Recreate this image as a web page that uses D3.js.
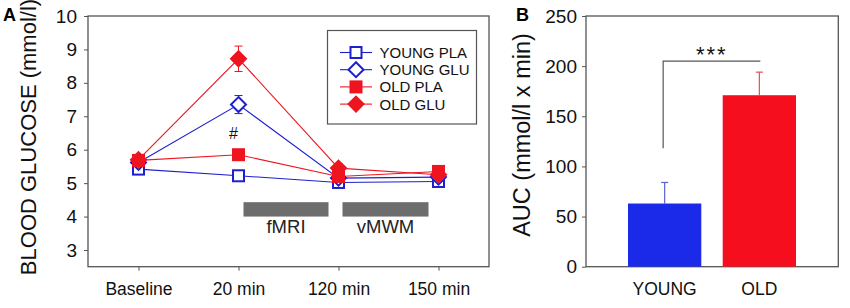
<!DOCTYPE html>
<html><head><meta charset="utf-8">
<script src="https://cdn.jsdelivr.net/npm/d3@7"></script>
<style>body{margin:0;background:#fff}svg{display:block}text{font-family:"Liberation Sans",Arial,sans-serif}</style>
</head><body><svg id="c" width="850" height="308"></svg>
<script>
const timepoints = ["Baseline","20 min","120 min","150 min"];
const seriesNames = ["YOUNG PLA","YOUNG GLU","OLD PLA","OLD GLU"];
const youngPla = [5.42, 5.22, 5.02, 5.05];
const youngPlaErr = [0.08, 0.08, 0.08, 0.08];
const youngGlu = [5.62, 7.35, 5.15, 5.18];
const youngGluErr = [0.1, 0.27, 0.1, 0.1];
const oldPla = [5.68, 5.85, 5.2, 5.35];
const oldPlaErr = [0.08, 0.08, 0.1, 0.12];
const oldGlu = [5.7, 8.72, 5.45, 5.25];
const oldGluErr = [0.1, 0.38, 0.12, 0.12];
const glucoseTicks = [3,4,5,6,7,8,9,10];
const groups = ["YOUNG","OLD"];
const auc = [63, 171];
const aucErr = [21, 23];
const aucTicks = [0,50,100,150,200,250];

const blue = "#1f1fd0", red = "#ee1520";
const svg = d3.select("#c");

// ---------- Panel A ----------
const ax0 = 88, ax1 = 489, ayTop = 16, ayBot = 266.7;
const xA = d3.scalePoint().domain(timepoints).range([138.5, 438.5]);
const yA = d3.scaleLinear().domain([2.5, 10]).range([ayBot, ayTop]);
const gA = svg.append("g");
gA.append("rect").attr("x", ax0).attr("y", ayTop).attr("width", ax1-ax0).attr("height", ayBot-ayTop)
  .attr("fill","none").attr("stroke","#555").attr("stroke-width",1.3);
const yAxisA = gA.append("g").attr("transform",`translate(${ax0},0)`)
  .call(d3.axisLeft(yA).tickValues(glucoseTicks).tickSize(4).tickPadding(7));
yAxisA.select(".domain").remove();
yAxisA.selectAll("line").attr("stroke","#555");
yAxisA.selectAll("text").attr("font-size",19).attr("fill","#111");
const xAxisA = gA.append("g").attr("transform",`translate(0,${ayBot})`)
  .call(d3.axisBottom(xA).tickSize(4).tickPadding(12));
xAxisA.select(".domain").remove();
xAxisA.selectAll("line").attr("stroke","#555");
xAxisA.selectAll("text").attr("font-size",17.5).attr("fill","#111");

gA.append("text").attr("transform","translate(36,137) rotate(-90)").attr("text-anchor","middle")
  .attr("font-size",22).attr("fill","#111").text("BLOOD GLUCOSE (mmol/l)");
gA.append("text").attr("x",3).attr("y",21).attr("font-size",18).attr("font-weight","bold").text("A");

// gray procedure bars
const procs = [{label:"fMRI", from:0.05, to:0.9, c0:"20 min", c1:"120 min"},{label:"vMWM", from:0.04, to:0.9, c0:"120 min", c1:"150 min"}];
procs.forEach(p => {
  const a = xA(p.c0), b = xA(p.c1);
  const x0 = a + (b-a)*p.from, x1 = a + (b-a)*p.to;
  gA.append("rect").attr("x",x0).attr("y",yA(4.43)).attr("width",x1-x0).attr("height",yA(4.0)-yA(4.43)).attr("fill","#6d6d6d");
  gA.append("text").attr("x",(x0+x1)/2).attr("y",yA(3.52)).attr("text-anchor","middle")
    .attr("font-family","'Open Sans',sans-serif").attr("font-size",18.5).attr("fill","#222").text(p.label);
});

gA.append("text").attr("x",xA("20 min")-5).attr("y",yA(6.32)).attr("text-anchor","middle").attr("font-size",16).attr("fill","#111").text("#");

const series = [
  {name:seriesNames[0], v:youngPla, e:youngPlaErr, color:blue, shape:"square", filled:false},
  {name:seriesNames[1], v:youngGlu, e:youngGluErr, color:blue, shape:"diamond", filled:false},
  {name:seriesNames[2], v:oldPla, e:oldPlaErr, color:red, shape:"square", filled:true},
  {name:seriesNames[3], v:oldGlu, e:oldGluErr, color:red, shape:"diamond", filled:true}
];
function drawMarker(g, s, x, y){
  if (s.shape === "square") {
    g.append("rect").attr("x",x-5.5).attr("y",y-5.5).attr("width",11).attr("height",11)
      .attr("fill", s.filled ? s.color : "#fff").attr("stroke", s.color).attr("stroke-width",2);
  } else {
    const r = 7.5;
    g.append("path").attr("d",`M${x},${y-r}L${x+r},${y}L${x},${y+r}L${x-r},${y}Z`)
      .attr("fill", s.filled ? s.color : "#fff").attr("stroke", s.color).attr("stroke-width",2);
  }
}
const line = d3.line().x((d,i)=>xA(timepoints[i])).y(d=>yA(d));
series.forEach(s => {
  gA.append("path").attr("d", line(s.v)).attr("fill","none").attr("stroke",s.color).attr("stroke-width",1.1);
});
series.forEach(s => {
  s.v.forEach((v,i) => {
    const x = xA(timepoints[i]);
    gA.append("line").attr("x1",x).attr("x2",x).attr("y1",yA(v-s.e[i])).attr("y2",yA(v+s.e[i])).attr("stroke",s.color).attr("stroke-width",1);
    [v-s.e[i], v+s.e[i]].forEach(t => gA.append("line").attr("x1",x-4).attr("x2",x+4).attr("y1",yA(t)).attr("y2",yA(t)).attr("stroke",s.color).attr("stroke-width",1));
  });
});
series.forEach(s => s.v.forEach((v,i) => drawMarker(gA, s, xA(timepoints[i]), yA(v))));

// legend
const lg = gA.append("g");
lg.append("rect").attr("x",327.5).attr("y",30.5).attr("width",149).attr("height",93.5).attr("fill","#fff").attr("stroke","#555").attr("stroke-width",1.2);
series.forEach((s,i) => {
  const y = 52.5 + i*17.2;
  lg.append("line").attr("x1",340).attr("x2",372).attr("y1",y).attr("y2",y).attr("stroke",s.color).attr("stroke-width",1.1);
  drawMarker(lg, s, 356, y);
  lg.append("text").attr("x",379.5).attr("y",y+5.5).attr("font-size",15).attr("fill","#111").text(s.name);
});

// ---------- Panel B ----------
const bx0 = 586, bx1 = 838.3;
const xB = d3.scaleBand().domain(groups).range([628, 796]).paddingInner(0.226).paddingOuter(0);
const yB = d3.scaleLinear().domain([0,250]).range([ayBot, ayTop]);
const gB = svg.append("g");
gB.append("rect").attr("x",bx0).attr("y",ayTop).attr("width",bx1-bx0).attr("height",ayBot-ayTop)
  .attr("fill","none").attr("stroke","#555").attr("stroke-width",1.3);
const yAxisB = gB.append("g").attr("transform",`translate(${bx0},0)`)
  .call(d3.axisLeft(yB).tickValues(aucTicks).tickSize(4).tickPadding(5));
yAxisB.select(".domain").remove();
yAxisB.selectAll("line").attr("stroke","#555");
yAxisB.selectAll("text").attr("font-size",19).attr("fill","#111");
const xAxisB = gB.append("g").attr("transform",`translate(0,${ayBot})`)
  .call(d3.axisBottom(xB).tickSize(0).tickPadding(16));
xAxisB.select(".domain").remove();
xAxisB.selectAll("text").attr("font-size",17.5).attr("fill","#111");
gB.append("text").attr("transform","translate(530,135) rotate(-90)").attr("text-anchor","middle")
  .attr("font-size",23.5).attr("fill","#111").text("AUC (mmol/l x min)");
gB.append("text").attr("x",516).attr("y",21).attr("font-size",18).attr("font-weight","bold").text("B");

const barColors = ["#1a2ae8", "#f50f1e"];
const errColors = ["#5a64d0", "#e0505a"];
groups.forEach((g,i) => {
  const x = xB(g), w = xB.bandwidth(), cx = x + w/2;
  gB.append("line").attr("x1",cx).attr("x2",cx).attr("y1",yB(auc[i])).attr("y2",yB(auc[i]+aucErr[i])).attr("stroke",errColors[i]).attr("stroke-width",1.2);
  gB.append("line").attr("x1",cx-3.5).attr("x2",cx+3.5).attr("y1",yB(auc[i]+aucErr[i])).attr("y2",yB(auc[i]+aucErr[i])).attr("stroke",errColors[i]).attr("stroke-width",1.2);
  gB.append("rect").attr("x",x).attr("y",yB(auc[i])).attr("width",w).attr("height",yB(0)-yB(auc[i])).attr("fill",barColors[i]);
});
// significance bracket
const c0 = xB("YOUNG") + xB.bandwidth()/2 - 1.5, c1 = xB("OLD") + xB.bandwidth()/2 + 1;
gB.append("path").attr("d",`M${c0},${yB(118)}V${yB(205)}H${c1}`).attr("fill","none").attr("stroke","#555").attr("stroke-width",1.2);
gB.append("text").attr("x",(c0+c1)/2).attr("y",yB(204)).attr("text-anchor","middle").attr("font-size",22)
  .attr("letter-spacing",2).attr("fill","#111").text("***");
</script></body></html>
